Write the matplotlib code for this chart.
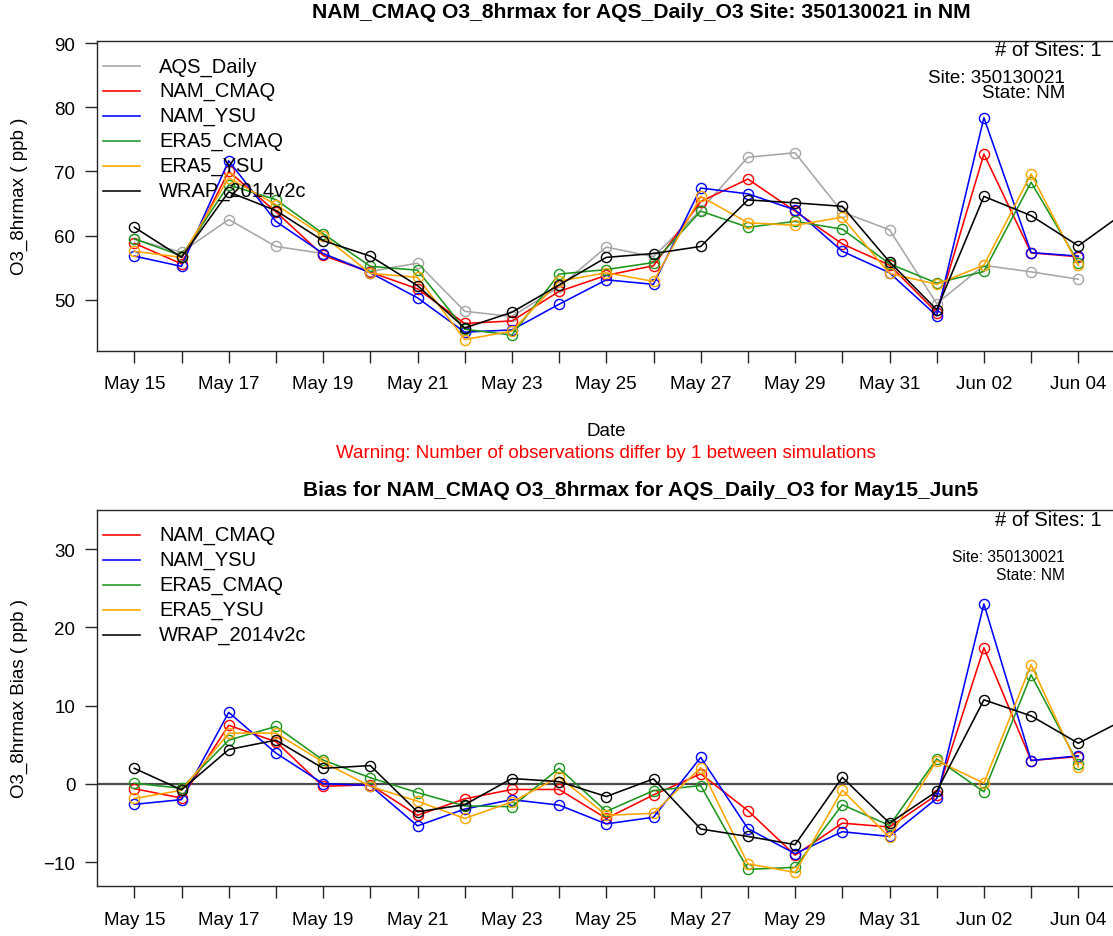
import numpy as np
import matplotlib
matplotlib.use("Agg")
import matplotlib.pyplot as plt

plt.rcParams['font.family'] = ['Liberation Sans', 'DejaVu Sans']

# ---------------- data ----------------
dates = ["May 15", "May 16", "May 17", "May 18", "May 19", "May 20", "May 21",
         "May 22", "May 23", "May 24", "May 25", "May 26", "May 27", "May 28",
         "May 29", "May 30", "May 31", "Jun 01", "Jun 02", "Jun 03", "Jun 04",
         "Jun 05"]
nan = np.nan

series_names = ["AQS_Daily", "NAM_CMAQ", "NAM_YSU", "ERA5_CMAQ", "ERA5_YSU", "WRAP_2014v2c"]
series_colors = ["#a6a6a6", "#ff0000", "#0000ff", "#1e951e", "#ffa500", "#000000"]

aqs_daily = [59.4, 57.4, 62.5, 58.3, 57.2, 54.4, 55.7, 48.2, 47.4, 52.0, 58.2,
             56.7, 64.0, 72.2, 72.9, 63.65, 60.9, 49.4, 55.35, 54.35, 53.2, nan]
nam_cmaq = [58.8, 55.6, 70.0, 63.7, 56.9, 54.3, 51.7, 46.3, 46.7, 51.3, 53.8,
            55.3, 65.3, 68.8, 63.8, 58.7, 55.4, 48.0, 72.7, 57.3, 56.7, nan]
nam_ysu = [56.8, 55.2, 71.65, 62.2, 57.2, 54.2, 50.3, 44.95, 45.3, 49.3, 53.1,
           52.4, 67.4, 66.5, 64.0, 57.55, 54.2, 47.5, 78.35, 57.35, 56.8, nan]
era5_cmaq = [59.5, 56.85, 67.9, 65.6, 60.3, 55.2, 54.6, 45.4, 44.5, 54.0, 54.7,
             55.8, 63.8, 61.3, 62.2, 61.0, 55.6, 52.6, 54.4, 68.3, 55.8, nan]
era5_ysu = [57.55, 56.6, 69.0, 64.8, 60.0, 54.1, 53.5, 43.8, 45.1, 52.9, 54.2,
            52.85, 66.1, 62.0, 61.6, 62.85, 54.1, 52.4, 55.4, 69.6, 55.35, nan]
wrap_2014v2c = [61.3, 56.6, 66.8, 63.9, 59.2, 56.8, 52.2, 45.6, 48.05, 52.3, 56.6,
                57.2, 58.3, 65.55, 65.1, 64.55, 55.9, 48.45, 66.1, 63.1, 58.4, 63.7]

bias_nam_cmaq = [-0.6, -1.8, 7.5, 5.4, -0.3, -0.1, -4.0, -1.9, -0.7, -0.7, -4.4,
                 -1.4, 1.3, -3.4, -9.1, -5.0, -5.5, -1.4, 17.4, 3.0, 3.5, nan]
bias_nam_ysu = [-2.6, -2.0, 9.15, 3.95, 0.05, -0.2, -5.35, -3.2, -2.0, -2.7, -5.1,
                -4.25, 3.4, -5.7, -8.9, -6.1, -6.7, -1.85, 23.0, 3.0, 3.6, nan]
bias_era5_cmaq = [0.1, -0.55, 5.6, 7.35, 3.05, 0.8, -1.1, -2.8, -2.9, 2.0, -3.5,
                  -0.85, -0.2, -10.9, -10.65, -2.65, -5.3, 3.2, -1.0, 13.95, 2.55, nan]
bias_era5_ysu = [-1.85, -0.8, 6.5, 6.5, 2.8, -0.3, -2.2, -4.4, -2.3, 0.9, -4.0,
                 -3.75, 2.1, -10.2, -11.3, -0.8, -6.8, 3.0, 0.1, 15.25, 2.15, nan]
bias_wrap_2014v2c = [2.0, -0.75, 4.4, 5.6, 2.0, 2.35, -3.55, -2.65, 0.7, 0.3, -1.6,
                     0.65, -5.75, -6.7, -7.75, 0.85, -5.0, -0.95, 10.75, 8.7, 5.2, 8.3]

top_yticks = [50, 60, 70, 80, 90]
bot_yticks = [-10, 0, 10, 20, 30]

top_series = [aqs_daily, nam_cmaq, nam_ysu, era5_cmaq, era5_ysu, wrap_2014v2c]
bot_series = [bias_nam_cmaq, bias_nam_ysu, bias_era5_cmaq, bias_era5_ysu, bias_wrap_2014v2c]

# ---------------- figure ----------------
W, H = 1113, 937
fig = plt.figure(figsize=(W / 100, H / 100), dpi=100)


def fx(px):
    return px / W


def fy(py):
    return 1 - py / H


x = np.arange(len(dates))
left_px, right_px = 97, 1115
ax1 = fig.add_axes([fx(left_px), fy(351.7), (right_px - left_px) / W, (351.7 - 41.7) / H])
ax2 = fig.add_axes([fx(left_px), fy(887.3), (right_px - left_px) / W, (887.3 - 511) / H])

day_px = 47.2
x0_px = 134.3
xlim = ((left_px - x0_px) / day_px, (right_px - x0_px) / day_px)

tick_labels = [d if i % 2 == 0 else "" for i, d in enumerate(dates)]

for ax in (ax1, ax2):
    ax.set_xlim(*xlim)
    ax.set_xticks(x[:21])
    ax.set_xticklabels(tick_labels[:21])
    for s in ax.spines.values():
        s.set_linewidth(1.0)
        s.set_color("#262626")
    ax.tick_params(axis='both', direction='out', length=8.5, width=1.0,
                   color="#262626", labelsize=13.5)
    ax.tick_params(axis='x', pad=9)
    ax.tick_params(axis='y', pad=7)

ax1.set_ylim(42.06, 90.36)
ax1.set_yticks(top_yticks)
ax2.set_ylim(-13.07, 35.0)
ax2.set_yticks(bot_yticks)

mk = dict(marker='o', markerfacecolor='none', markersize=7.3, markeredgewidth=1.0, linewidth=1.15)
for vals, col in zip(top_series, series_colors):
    ax1.plot(x, vals, color=col, markeredgecolor=col, **mk)

ax2.axhline(0, color="#4a4a4a", linewidth=1.6, zorder=1)
for vals, col in zip(bot_series, series_colors[1:]):
    ax2.plot(x, vals, color=col, markeredgecolor=col, zorder=2, **mk)

# legends (manual, no frame)
def draw_legend(ax, names, colors, top_px, bottom_px, first_row_px, step_px):
    hpx = bottom_px - top_px
    for i, (n, c) in enumerate(zip(names, colors)):
        ypx = first_row_px + i * step_px
        ya = (bottom_px - ypx) / hpx
        xa0 = (102.5 - left_px) / (right_px - left_px)
        xa1 = (140 - left_px) / (right_px - left_px)
        xt = (159 - left_px) / (right_px - left_px)
        ax.plot([xa0, xa1], [ya, ya], transform=ax.transAxes, color=c, linewidth=1.15,
                clip_on=False)
        ax.text(xt, ya, n, transform=ax.transAxes, fontsize=14.5, va='center', ha='left')

draw_legend(ax1, series_names, series_colors, 41.7, 351.7, 67.0, 24.9)
draw_legend(ax2, series_names[1:], series_colors[1:], 511, 887.3, 536.0, 25.0)

# texts
fig.text(fx(641), fy(13), "NAM_CMAQ O3_8hrmax for AQS_Daily_O3 Site: 350130021 in NM",
         ha='center', va='center', fontsize=15.2, fontweight='bold')
fig.text(fx(641), fy(491), "Bias for NAM_CMAQ O3_8hrmax for AQS_Daily_O3 for May15_Jun5",
         ha='center', va='center', fontsize=15.0, fontweight='bold')
fig.text(fx(606), fy(432), "Date", ha='center', va='center', fontsize=13.5)
fig.text(fx(606), fy(454), "Warning: Number of observations differ by 1 between simulations",
         ha='center', va='center', fontsize=13.5, color='red')
fig.text(fx(19), fy(196.7), "O3_8hrmax ( ppb )", rotation=90, ha='center', va='center',
         fontsize=13.5)
fig.text(fx(19), fy(699), "O3_8hrmax Bias ( ppb )", rotation=90, ha='center', va='center',
         fontsize=13.5)

fig.text(fx(1102), fy(50), "# of Sites: 1", ha='right', va='center', fontsize=14.5)
fig.text(fx(1065), fy(79), "Site: 350130021", ha='right', va='center', fontsize=13.5)
fig.text(fx(1065), fy(94), "State: NM", ha='right', va='center', fontsize=13.5)

fig.text(fx(1102), fy(521), "# of Sites: 1", ha='right', va='center', fontsize=14.5)
fig.text(fx(1065), fy(558), "Site: 350130021", ha='right', va='center', fontsize=11.2)
fig.text(fx(1065), fy(576), "State: NM", ha='right', va='center', fontsize=11.2)

fig.savefig("out.png", dpi=100)
